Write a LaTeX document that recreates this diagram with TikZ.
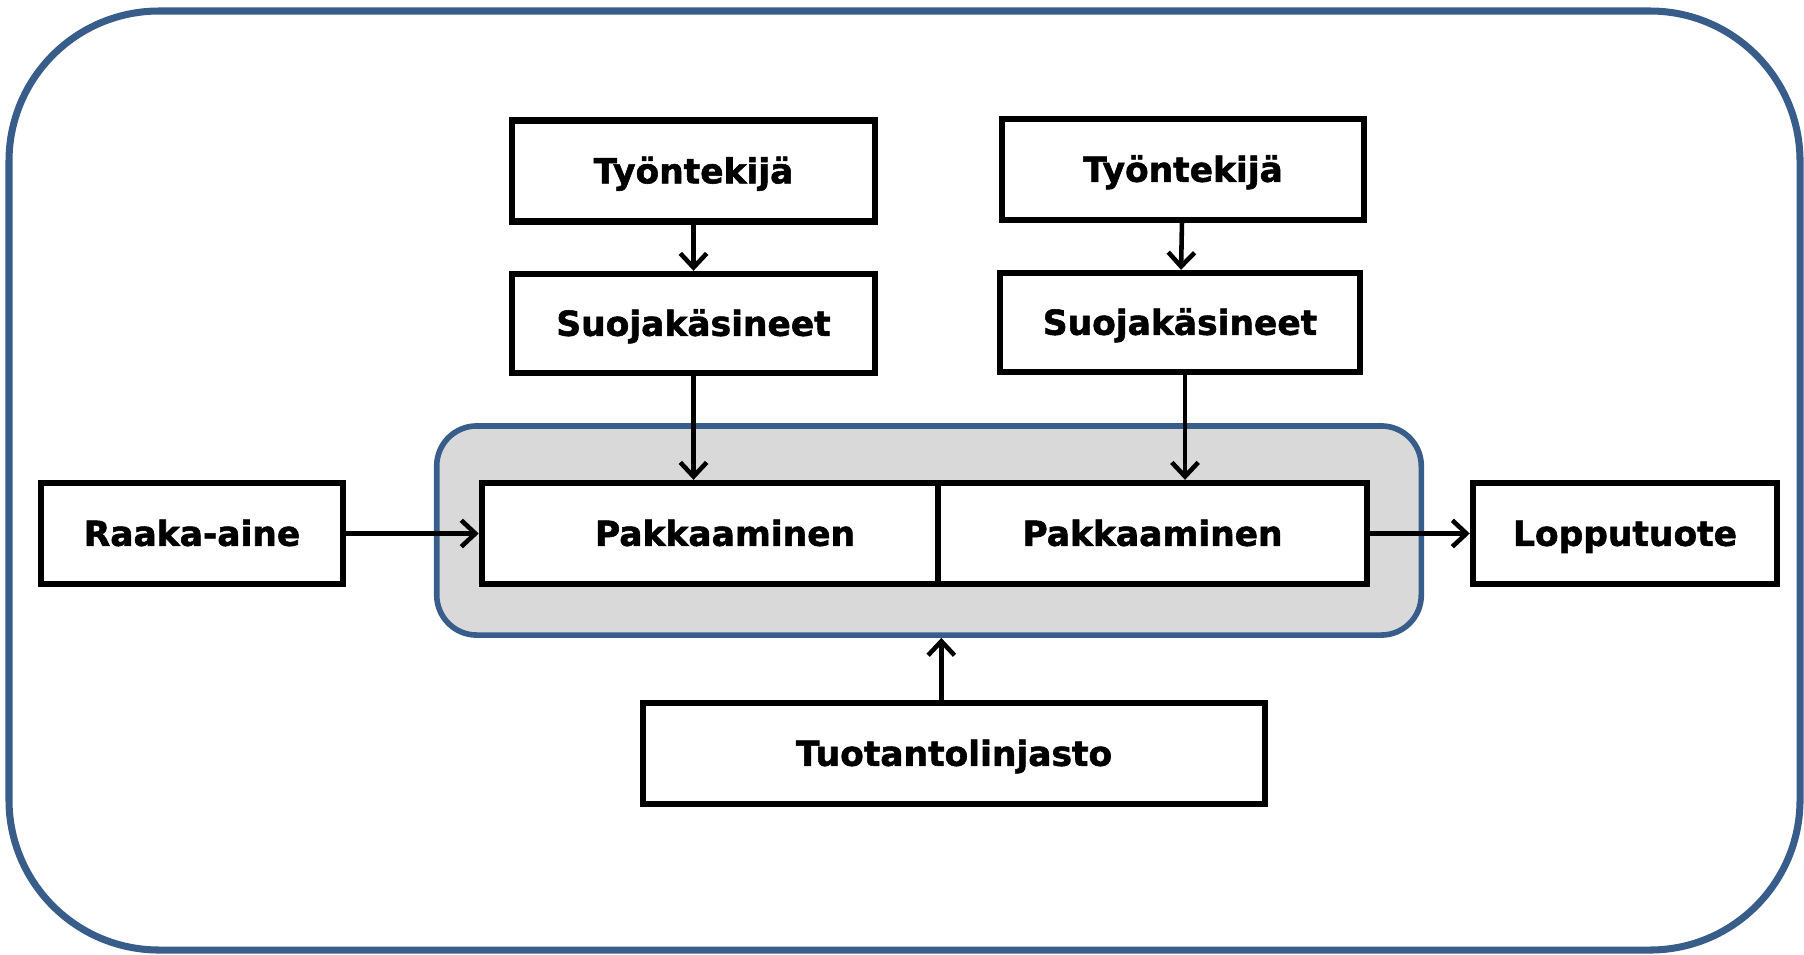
\documentclass[tikz,border=0pt]{standalone}
\usepackage{fontspec}
\setmainfont{DejaVu Sans}[BoldFeatures={FakeBold=1.6}]
\usetikzlibrary{positioning, arrows.meta}
\definecolor{frameblue}{HTML}{385D8A}
\definecolor{linegray}{HTML}{D9D9D9}
\tikzstyle{block} = [rectangle, draw, line width=1.8pt, fill=white, text centered,
minimum height=1.01cm, text height=0.72em, text depth=0.02em,
font=\fontsize{9.8}{12}\selectfont\bfseries]
\tikzstyle{arrow} = [line width=1.3pt,-{Straight Barb[length=4pt,width=7.5pt]}]

\begin{document}
\begin{tikzpicture}[x=0.01cm,y=-0.01cm]
    \useasboundingbox (0,0) rectangle (1804,954);
    % outer frame
    \draw [frameblue, line width=2pt, rounded corners=1.5cm] (9,11) rectangle (1800,950);
    \node (line) [fill=linegray, draw=frameblue, line width=1.6pt, rounded corners=0.4cm,
        minimum width=9.84cm, minimum height=2.09cm] at (929,530.5) {};

    \node (tyo1) [block, minimum width=3.63cm] at (693.5,171) {Työntekijä};
    \node (suo1) [block, minimum width=3.63cm, minimum height=0.99cm] at (693.5,323.5) {Suojakäsineet};
    \node (tyo2) [block, minimum width=3.62cm] at (1183,169.5) {Työntekijä};
    \node (suo2) [block, minimum width=3.60cm, minimum height=0.99cm] at (1180,322.5) {Suojakäsineet};
    \node (raaka) [block, minimum width=3.02cm] at (192,533.5) {Raaka-aine};
    \node (pak1) [block, minimum width=4.56cm] at (710,533.5) {\hspace{0.3cm}Pakkaaminen};
    \node (pak2) [block, minimum width=4.29cm] at (1152.5,533.5) {Pakkaaminen};
    \node (loppu) [block, minimum width=3.04cm] at (1625,533.5) {Lopputuote};
    \node (tuot) [block, minimum width=6.22cm] at (954,753.5) {Tuotantolinjasto};

    \draw [arrow] (tyo1) -- (suo1);
    \draw [arrow] (suo1.south) -- (suo1.south |- pak1.north);
    \draw [arrow] (tyo2) -- (suo2);
    \draw [arrow] ([xshift=0.05cm]suo2.south) -- ([xshift=0.05cm]suo2.south |- pak2.north);
    \draw [arrow] (raaka) -- (pak1);
    \draw [arrow] (pak2) -- (loppu);
    \draw [arrow] (pak1.east |- tuot.north) -- (pak1.east |- line.south);
\end{tikzpicture}
\end{document}
